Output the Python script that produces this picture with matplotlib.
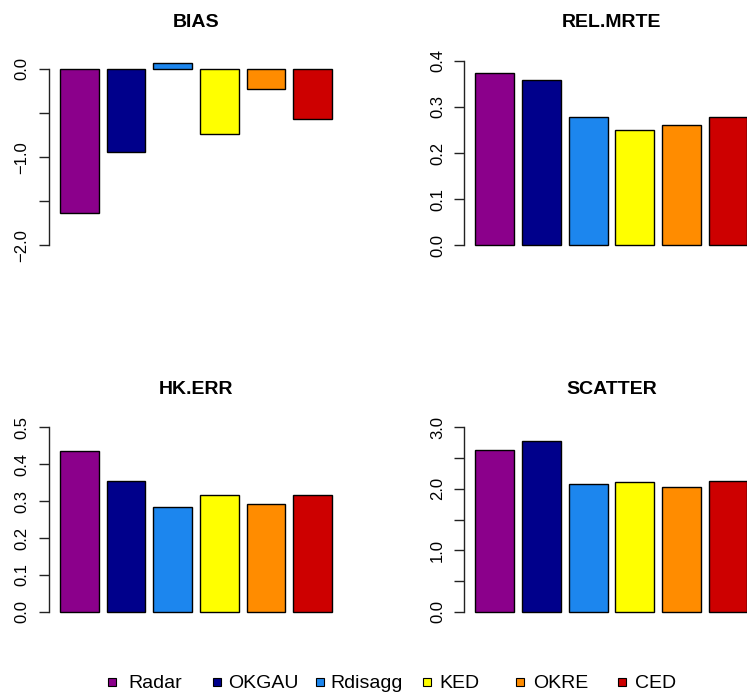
import matplotlib
matplotlib.use("Agg")
import matplotlib.pyplot as plt
from matplotlib.patches import Rectangle
import numpy as np

plt.rcParams['font.family'] = ['Liberation Sans', 'DejaVu Sans']

# Methods and their colours
methods = ["Radar", "OKGAU", "Rdisagg", "KED", "OKRE", "CED"]
colors = ["#8B008B", "#00008B", "#1C86EE", "#FFFF00", "#FF8C00", "#CD0000"]

# Scores per method
bias = [-1.637, -0.941, 0.064, -0.741, -0.223, -0.571]
rel_mrte = [0.374, 0.358, 0.277, 0.250, 0.260, 0.277]
hk_err = [0.435, 0.354, 0.285, 0.317, 0.291, 0.317]
scatter = [2.626, 2.783, 2.079, 2.117, 2.025, 2.133]

# Axis ranges, tick positions and which ticks carry a label
bias_ylim = (-2.0, 0.094)
bias_ticks = [-2.0, -1.5, -1.0, -0.5, 0.0]
bias_labels = ["\u22122.0", "", "\u22121.0", "", "0.0"]

rel_ylim = (0.0, 0.4)
rel_ticks = [0.0, 0.1, 0.2, 0.3, 0.4]
rel_labels = ["0.0", "0.1", "0.2", "0.3", "0.4"]

hk_ylim = (0.0, 0.5)
hk_ticks = [0.0, 0.1, 0.2, 0.3, 0.4, 0.5]
hk_labels = ["0.0", "0.1", "0.2", "0.3", "0.4", "0.5"]

sc_ylim = (0.0, 3.0)
sc_ticks = [0.0, 0.5, 1.0, 1.5, 2.0, 2.5, 3.0]
sc_labels = ["0.0", "", "1.0", "", "2.0", "", "3.0"]

W, H = 747, 694
fig = plt.figure(figsize=(W / 100, H / 100), dpi=100)


def px_axes(x0, y_top, w, h):
    return fig.add_axes([x0 / W, (H - y_top - h) / H, w / W, h / H])


def r_extend(lo, hi, frac=0.04):
    r = hi - lo
    return lo - frac * r, hi + frac * r


def panel(x0, y_top, title, values, ylim, ticks, labels):
    pw, ph = 293.8, 199.4
    ax = px_axes(x0, y_top, pw, ph)
    x = 0.7 + 1.2 * np.arange(len(values))
    ax.bar(x, values, width=1.0, color=colors, edgecolor="black",
           linewidth=1.0, zorder=2)
    ax.set_xlim(-0.08, 7.48)
    ax.set_ylim(*r_extend(*ylim))
    for s in ("top", "right", "bottom"):
        ax.spines[s].set_visible(False)
    ax.spines["left"].set_bounds(min(ticks), max(ticks))
    ax.spines["left"].set_color("#222222")
    ax.spines["left"].set_linewidth(1.0)
    ax.set_xticks([])
    ax.set_yticks(ticks)
    ax.set_yticklabels(labels, rotation=90, va="center", ha="right")
    ax.tick_params(axis="y", length=7.0, width=1.0, color="#222222",
                   pad=7.0, labelsize=12)
    ax.patch.set_visible(False)
    fig.text((x0 + pw / 2) / W, 1 - (y_top - 32.6) / H, title,
             ha="center", va="center_baseline", fontsize=14,
             fontweight="bold")
    return ax


left_x, right_x = 49.1, 464.5
top_y, bot_y = 53.3, 419.9

panel(left_x, top_y, "BIAS", bias, bias_ylim, bias_ticks, bias_labels)
panel(right_x, top_y, "REL.MRTE", rel_mrte, rel_ylim, rel_ticks, rel_labels)
panel(left_x, bot_y, "HK.ERR", hk_err, hk_ylim, hk_ticks, hk_labels)
panel(right_x, bot_y, "SCATTER", scatter, sc_ylim, sc_ticks, sc_labels)

# Legend along the bottom edge
sq_x = [107.7, 213.3, 315.7, 423.3, 516.0, 617.7]
txt_x = [128.3, 228.3, 330.0, 439.5, 533.3, 635.0]
leg_y = 681.5
sq = 8.0
for name, col, sx, tx in zip(methods, colors, sq_x, txt_x):
    fig.patches.append(Rectangle((sx / W, 1 - (leg_y + sq / 2) / H),
                                 sq / W, sq / H, transform=fig.transFigure,
                                 facecolor=col, edgecolor="black",
                                 linewidth=0.8))
    fig.text(tx / W, 1 - leg_y / H, name, ha="left", va="center_baseline",
             fontsize=14)

fig.savefig("out.png", dpi=100)
